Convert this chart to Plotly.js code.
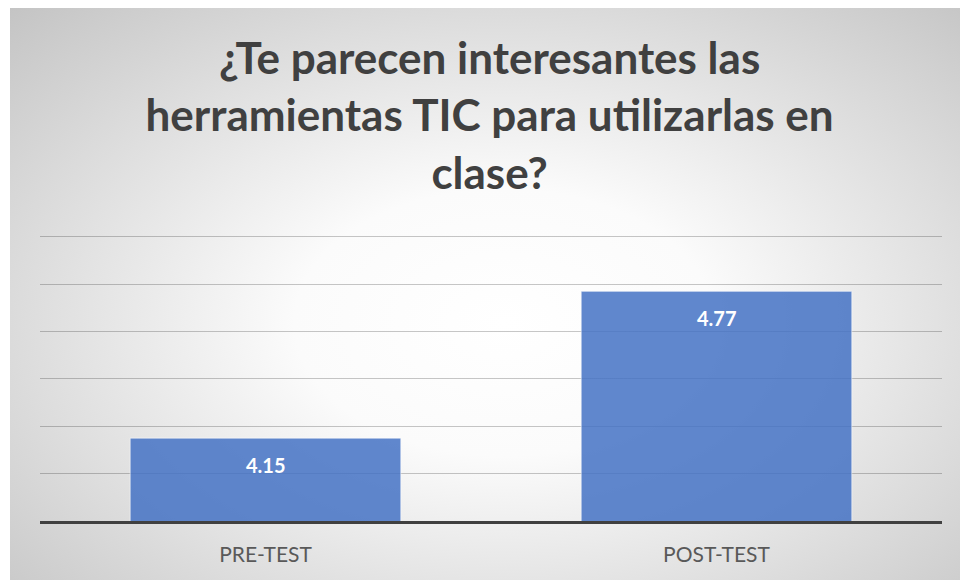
<!DOCTYPE html>
<html>
<head>
<meta charset="utf-8">
<script src="https://cdn.plot.ly/plotly-3.0.1.min.js"></script>
<style>
html,body{margin:0;padding:0;background:#ffffff;}
#chart{width:960px;height:580px;
background: radial-gradient(ellipse farthest-corner at 52% 55%, #ffffff 0%, #fbfbfb 30%, #c4c4c4 100%) 10px 8px / 950px 572px no-repeat, #ffffff;}
</style>
</head>
<body>
<div id="chart"></div>
<script>
const categories = ["PRE-TEST", "POST-TEST"];
const values = [4.15, 4.77];
const valueLabels = ["4.15", "4.77"];
const gridValues = [3.8, 4.0, 4.2, 4.4, 4.6, 4.8, 5.0];
const titleText = "¿Te parecen interesantes las<br>herramientas TIC para utilizarlas en<br>clase?";

const trace = {
  type: "bar",
  x: categories,
  y: values,
  textposition: "none",
  marker: {color: "rgba(68,114,196,0.85)", line: {color: "rgba(255,255,255,0.55)", width: 1}},
  hoverinfo: "none"
};

const labelAnnotations = categories.map((c, i) => ({
  x: c, y: values[i], xref: "x", yref: "y",
  text: valueLabels[i], showarrow: false,
  yanchor: "middle", yshift: -27,
  font: {family: "Lato, 'Open Sans', sans-serif", size: 20, color: "#ffffff", weight: "bold"}
}));

const layout = {
  width: 960, height: 580,
  paper_bgcolor: "rgba(0,0,0,0)",
  plot_bgcolor: "rgba(0,0,0,0)",
  margin: {l: 40, r: 18, t: 235, b: 59},
  title: {
    text: titleText,
    font: {family: "Lato, 'Open Sans', sans-serif", size: 44, color: "#404040", weight: "bold"},
    x: 0.51, xanchor: "center", y: 0.872, yanchor: "top", yref: "container"
  },
  bargap: 0.4,
  showlegend: false,
  annotations: labelAnnotations,
  xaxis: {
    type: "category",
    showline: true, linecolor: "#404040", linewidth: 3,
    showgrid: false, zeroline: false, ticks: "",
    tickfont: {family: "Lato, 'Open Sans', sans-serif", size: 21, color: "#595959"},
    ticklabelstandoff: 13
  },
  yaxis: {
    range: [3.8, 5.008], tickmode: "array", tickvals: gridValues,
    showticklabels: false, showgrid: true, gridcolor: "rgba(0,0,0,0.22)", gridwidth: 1,
    zeroline: false, showline: false, ticks: ""
  }
};
Plotly.newPlot("chart", [trace], layout, {displayModeBar: false, staticPlot: true});
</script>
</body>
</html>
